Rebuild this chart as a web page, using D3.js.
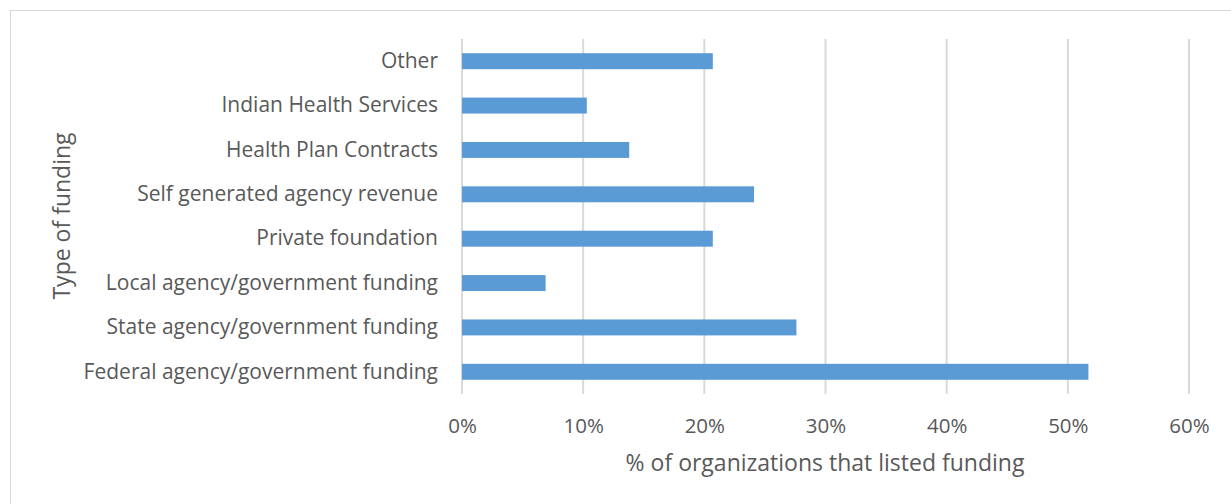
<!DOCTYPE html>
<html>
<head>
<meta charset="utf-8">
<script src="https://cdn.jsdelivr.net/npm/d3@7"></script>
<style>
  html, body { margin: 0; padding: 0; background: #fff; }
  svg { display: block; }
  text { font-family: "Open Sans", sans-serif; fill: #595959; }
</style>
</head>
<body>
<svg id="chart" width="1231" height="504"></svg>
<script>
// Funding sources, listed bottom-to-top as they appear on the chart
const categories = [
  "Federal agency/government funding",
  "State agency/government funding",
  "Local agency/government funding",
  "Private foundation",
  "Self generated agency revenue",
  "Health Plan Contracts",
  "Indian Health Services",
  "Other"
];
// Share of organizations that listed each funding type (fraction)
const shares = [0.517, 0.276, 0.069, 0.207, 0.241, 0.138, 0.103, 0.207];
const tickValues = [0, 0.1, 0.2, 0.3, 0.4, 0.5, 0.6];
const xTitle = "% of organizations that listed funding";
const yTitle = "Type of funding";

const data = categories.map((c, i) => ({ category: c, value: shares[i] }));

const svg = d3.select("#chart");
const plot = { left: 462, right: 1189, top: 39, bottom: 394 };

// Outer chart frame (top and left edges visible)
svg.append("rect")
  .attr("x", 10.5).attr("y", 10.5)
  .attr("width", 1240).attr("height", 520)
  .attr("fill", "none")
  .attr("stroke", "#d9d9d9")
  .attr("stroke-width", 1);

const x = d3.scaleLinear().domain([0, 0.6]).range([plot.left, plot.right]);
const y = d3.scaleBand()
  .domain(categories.slice().reverse())
  .range([plot.top, plot.bottom])
  .padding(0);

// Vertical gridlines
svg.append("g")
  .selectAll("line")
  .data(tickValues)
  .join("line")
  .attr("x1", d => x(d)).attr("x2", d => x(d))
  .attr("y1", plot.top).attr("y2", plot.bottom)
  .attr("stroke", "#d9d9d9")
  .attr("stroke-width", 2);

// Bars
const barH = y.bandwidth() * 0.36;
svg.append("g")
  .selectAll("rect")
  .data(data)
  .join("rect")
  .attr("x", x(0))
  .attr("y", d => y(d.category) + (y.bandwidth() - barH) / 2)
  .attr("width", d => x(d.value) - x(0))
  .attr("height", barH)
  .attr("fill", "#5b9bd5");

// X axis tick labels
const xAxis = d3.axisBottom(x)
  .tickValues(tickValues)
  .tickFormat(d3.format(".0%"))
  .tickSize(0)
  .tickPadding(0);
const gx = svg.append("g")
  .attr("transform", `translate(0, ${plot.bottom})`)
  .call(xAxis);
gx.select(".domain").remove();
gx.selectAll("text")
  .attr("dy", null)
  .attr("y", 39)
  .style("font-size", "20.5px")
  .style("font-family", "'Open Sans', sans-serif")
  .attr("fill", "#595959");

// Y axis category labels
const yAxis = d3.axisLeft(y).tickSize(0).tickPadding(0);
const gy = svg.append("g")
  .attr("transform", `translate(${plot.left - 24}, 0)`)
  .call(yAxis);
gy.select(".domain").remove();
gy.selectAll("text")
  .style("font-size", "21px")
  .style("font-family", "'Open Sans', sans-serif")
  .attr("fill", "#595959");

// Axis titles
svg.append("text")
  .attr("x", 825)
  .attr("y", 471)
  .attr("text-anchor", "middle")
  .style("font-size", "23px")
  .text(xTitle);

svg.append("text")
  .attr("transform", `translate(70, 216) rotate(-90)`)
  .attr("text-anchor", "middle")
  .style("font-size", "23px")
  .text(yTitle);
</script>
</body>
</html>
